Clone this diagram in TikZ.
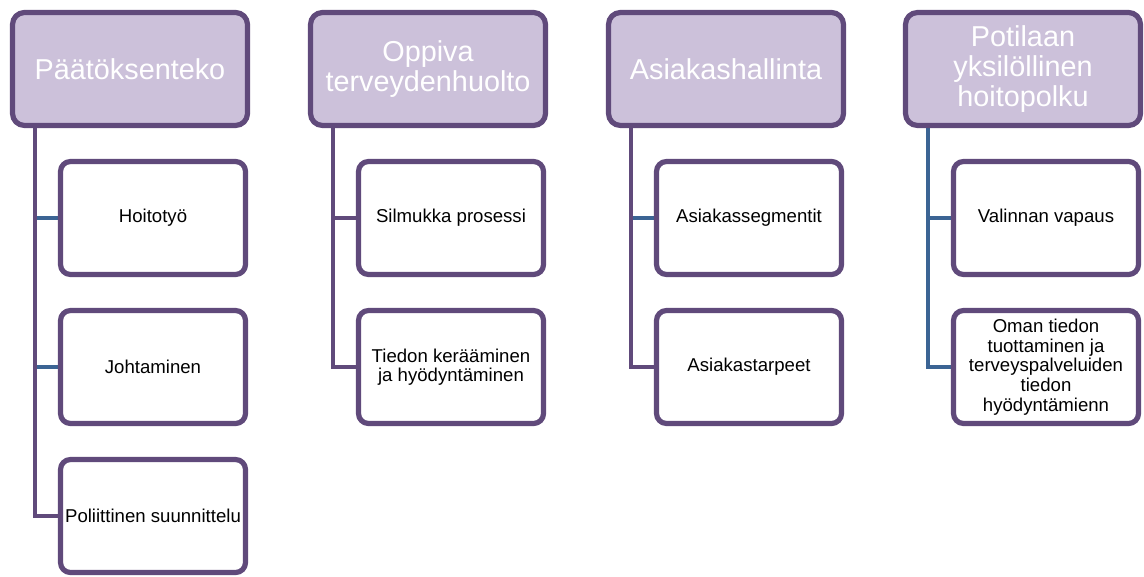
\documentclass[tikz,border=0pt]{standalone}
\usepackage{fontspec}
\setmainfont{Liberation Sans}
\usepackage{tikz}
\usetikzlibrary{positioning, backgrounds}

\definecolor{smartpurple}{HTML}{604A7B}
\definecolor{smartlilac}{HTML}{CCC1DA}
\definecolor{smartblue}{HTML}{3B6494}

\begin{document}
\begin{tikzpicture}[
    x=0.5pt, y=-0.5pt,
    head/.style={draw=smartpurple, line width=2.6pt, fill=smartlilac, rounded corners=6pt,
        minimum width=117.5pt, minimum height=56.5pt, inner sep=1pt, align=center,
        text=white, font=\fontsize{14.4}{15}\selectfont},
    item/.style={draw=smartpurple, line width=2.6pt, fill=white, rounded corners=5pt,
        minimum width=92.5pt, minimum height=56.5pt, inner sep=1pt, align=center,
        text=black, font=\fontsize{9.3}{9.8}\selectfont},
    plink/.style={draw=smartpurple, line width=2pt},
    blink/.style={draw=smartblue, line width=2pt}
]
    \useasboundingbox (0,0) rectangle (1144,577);

    % Headings
    \node[head] (h1) at (130,69) {Päätöksenteko};
    \node[head] (h2) at (428,69) {Oppiva\\terveydenhuolto};
    \node[head] (h3) at (726,69) {Asiakashallinta};
    \node[head] (h4) at (1023,69) {Potilaan\\yksilöllinen\\hoitopolku};

    % Column 1
    \node[item] (c11) at (153,218) {Hoitotyö};
    \node[item] (c12) at (153,367) {Johtaminen};
    \node[item] (c13) at (153,516) {Poliittinen suunnittelu};

    % Column 2
    \node[item] (c21) at (451,218) {Silmukka prosessi};
    \node[item] (c22) at (451,367) {Tiedon kerääminen\\ja hyödyntäminen};

    % Column 3
    \node[item] (c31) at (749,218) {Asiakassegmentit};
    \node[item] (c32) at (749,367) {Asiakastarpeet};

    % Column 4
    \node[item] (c41) at (1046,218) {Valinnan vapaus};
    \node[item] (c42) at (1046,367) {Oman tiedon\\tuottaminen ja\\terveyspalveluiden\\tiedon\\hyödyntämienn};

    % Connectors
    \coordinate (t1) at ([xshift=-47.5pt]h1.south);
    \coordinate (t2) at ([xshift=-47.5pt]h2.south);
    \coordinate (t3) at ([xshift=-47.5pt]h3.south);
    \coordinate (t4) at ([xshift=-47.5pt]h4.south);

    \begin{scope}[on background layer]
    \draw[blink] (t1) |- (c11.west);
    \draw[blink] (t1) |- (c12.west);
    \draw[plink] (t1) |- (c13.west);

    \draw[plink] (t2) |- (c21.west);
    \draw[plink] (t2) |- (c22.west);

    \draw[blink] (t3) |- (c31.west);
    \draw[plink] (t3) |- (c32.west);

    \draw[blink] (t4) |- (c41.west);
    \draw[blink] (t4) |- (c42.west);
    \end{scope}

\end{tikzpicture}
\end{document}
